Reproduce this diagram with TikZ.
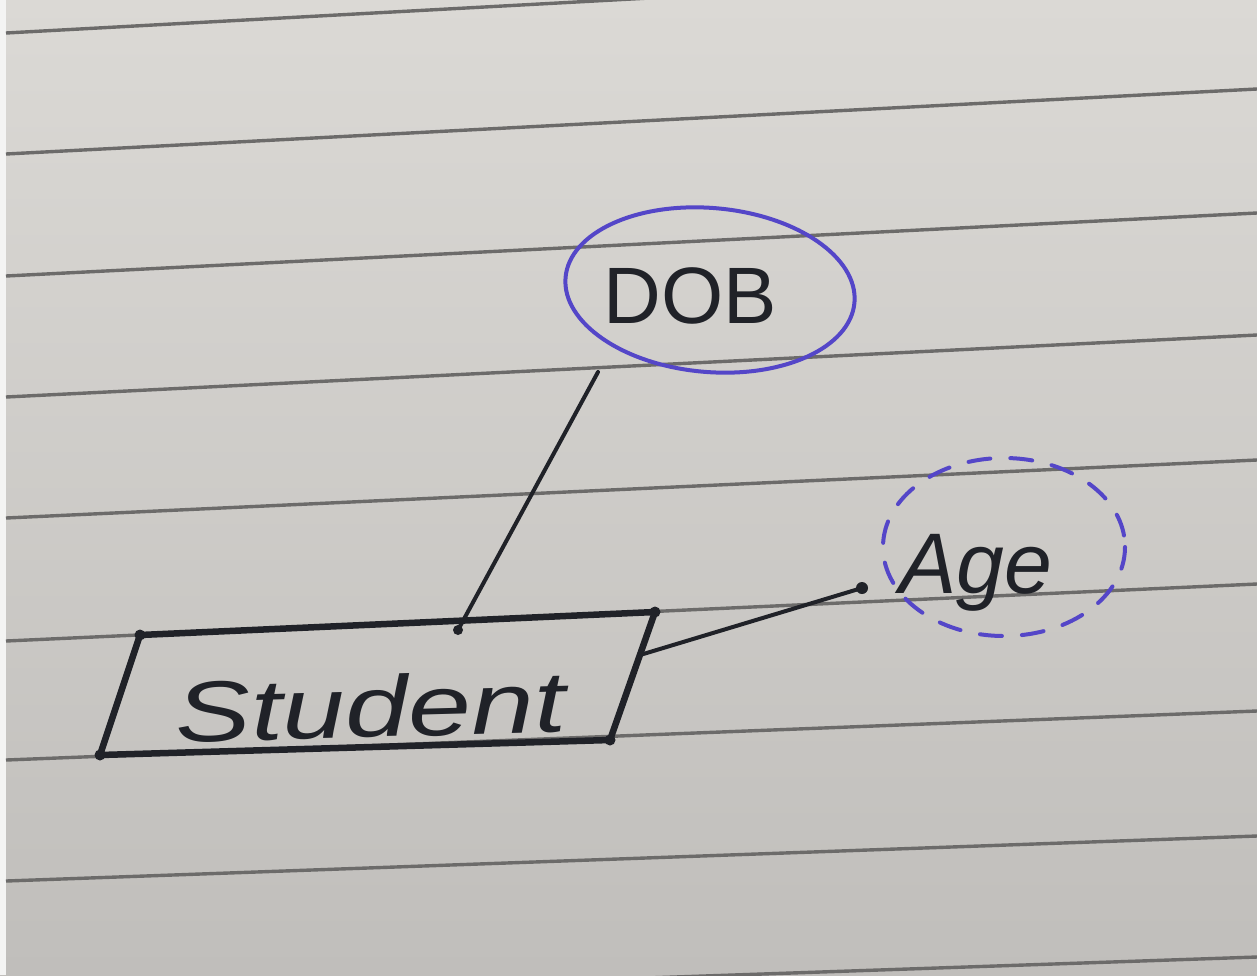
\documentclass[tikz,border=0pt]{standalone}
\usepackage{fontspec}
\newfontfamily\hand{Liberation Sans}
\definecolor{paper}{RGB}{219,217,213}
\definecolor{paperdark}{RGB}{192,190,187}
\definecolor{rulecol}{RGB}{108,107,106}
\definecolor{ink}{RGB}{32,34,40}
\definecolor{blueink}{RGB}{84,70,200}
\tikzset{
  ruling/.style={draw=rulecol, line width=3.4pt},
  pen/.style={draw=ink, line width=6.5pt, line cap=round, line join=round},
  link/.style={draw=ink, line width=4pt, line cap=round},
  inkdot/.style={fill=ink},
  bubble/.style={draw=blueink, line width=4pt},
  dashbubble/.style={draw=blueink, line width=4pt, line cap=round, dash pattern=on 22pt off 20pt},
  word/.style={font=\hand\fontsize{80}{86}\selectfont, text=ink, inner sep=0pt, anchor=base}
}
\begin{document}
\begin{tikzpicture}[x=1pt,y=-1pt]
\useasboundingbox (0,0) rectangle (1257,975);
\begin{scope}
  \clip (0,0) rectangle (1257,975);
  % paper
  \shade[top color=paper, bottom color=paperdark] (0,0) rectangle (1257,975);
  \fill[white!70!paper] (0,0) rectangle (6,975);
  % ruled lines of the notebook page
  \foreach \l/\r in {33/-35,154/89,276/213,397/335,518/460,641/584,760/711,881/836,1000/957}
    \draw[ruling] (6,\l) -- (1257,\r);
\end{scope}

% entity
\coordinate (s-tl) at (140,635);
\coordinate (s-tr) at (655,612);
\coordinate (s-br) at (610,740);
\coordinate (s-bl) at (100,755);
\draw[pen] (s-tl) -- (s-tr) -- (s-br) -- (s-bl) -- cycle;
\foreach \c in {s-tl,s-tr,s-br,s-bl} \fill[inkdot] (\c) circle (5.5pt);
\node[word, font=\hand\itshape\fontsize{86}{92}\selectfont, xscale=1.32, rotate=2] (student) at (372,737) {Student};

% attribute DOB
\node[word] (dob) at (690,323) {DOB};
\draw[bubble, rotate around={-5:(710,290)}] (710,290) ellipse [x radius=145, y radius=82];

% derived attribute Age
\node[word, font=\hand\itshape\fontsize{86}{92}\selectfont] (age) at (976,593) {Age};
\draw[dashbubble] (1004,547) ellipse [x radius=121, y radius=89];

% connectors
\coordinate (dob-foot) at (598,372);
\coordinate (s-top) at (458,630);
\coordinate (s-side) at (640,655);
\coordinate (age-end) at (862,588);
\draw[link] (dob-foot) -- (s-top);
\fill[inkdot] (s-top) circle (5pt);
\draw[link] (s-side) -- (age-end);
\fill[inkdot] (age-end) circle (6pt);
\end{tikzpicture}
\end{document}
